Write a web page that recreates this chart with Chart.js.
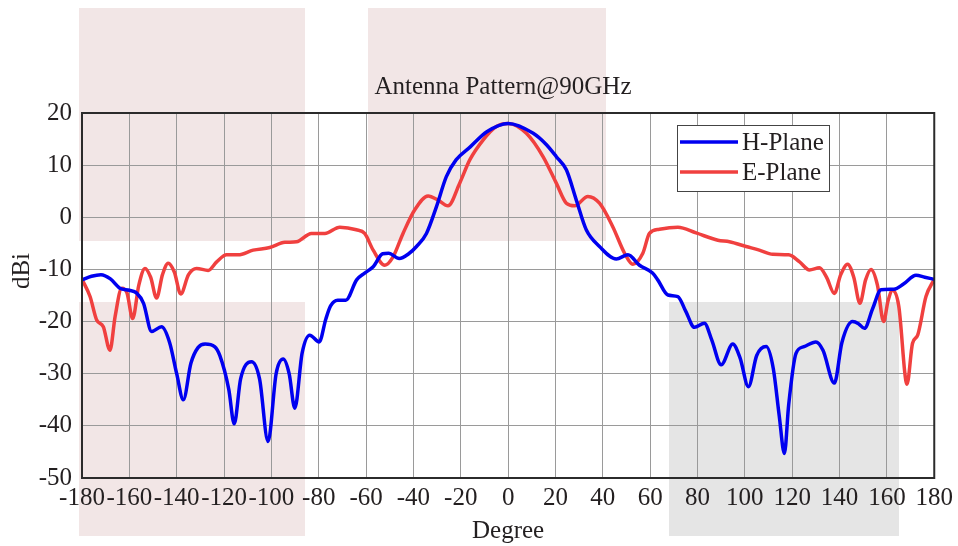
<!DOCTYPE html>
<html>
<head>
<meta charset="utf-8">
<script src="https://cdn.jsdelivr.net/npm/chart.js@4.4.0/dist/chart.umd.min.js"></script>
<style>
  html, body { margin: 0; padding: 0; background: #fff; }
  #wrap { width: 958px; height: 546px; }
</style>
</head>
<body>
<div id="wrap"><canvas id="pattern"></canvas></div>
<script>
// H-Plane
var hAngles = [-180, -176, -172, -168, -164, -160, -157, -154, -150.6, -146.4, -143, -140, -137.2, -134, -131, -128, -124, -121.8, -118, -115.7,
    -113, -108.4, -105, -101.4, -98, -95, -92.5, -90.1, -87, -83.8, -79.8, -77, -75, -72, -68.6, -64, -60.6, -57, -53, -50.5,
    -46, -42, -38.7, -34.5, -30.3, -26.1, -22, -16, -9, 0, 10.6, 16, 20.4, 24.6, 28.8, 33, 38.6, 45.7, 50.6, 55.5,
    61, 63.2, 67.5, 71.7, 75, 78.7, 82.9, 86, 90, 94.9, 98, 101.5, 105, 109, 112, 114.5, 116.7, 118.5, 121.6, 125,
    130, 133, 137.8, 141, 145.5, 148, 150.5, 154, 157.5, 163, 167, 172.3, 176, 180];
var hGain = [-12, -11.3, -11, -11.8, -13.6, -14, -14.5, -16.5, -21.9, -21, -24, -30, -35, -28, -25, -24.3, -24.8, -26.5, -33, -39.6,
    -31, -27.7, -31, -43, -30, -27.2, -30, -36.6, -26, -22.6, -23.9, -19.5, -17, -15.9, -15.9, -12, -10.7, -9.5, -7, -6.9,
    -7.9, -7, -5.6, -3.1, 2, 7.8, 11, 13.5, 16.4, 18, 16.1, 14, 11.6, 9.1, 3.3, -2.4, -5.6, -8, -7.2, -9.2,
    -10.7, -12, -14.9, -15.2, -18, -21.1, -20.3, -23.5, -28.3, -24.3, -27, -32.5, -26.5, -24.8, -29, -38, -45.3, -36, -26.1, -24.8,
    -23.9, -25.5, -31.8, -24, -20, -20.4, -21.3, -17.5, -13.9, -13.8, -12.8, -11.1, -11.5, -11.9];

// E-Plane
var eAngles = [-180, -176.6, -173.8, -171, -168.2, -166, -163.2, -161, -158.6, -156, -153.4, -151, -148.5, -146, -143.6, -141, -138.3, -135, -131.6, -126.7,
    -123, -118.9, -114, -107.7, -100.7, -94.3, -89.4, -83.1, -77.4, -71.1, -64.1, -60.6, -57, -52.1, -48.6, -44.4, -39.5, -33.8, -29.6, -25.4,
    -20.5, -16.2, -10.6, -5, 0, 7.7, 14.8, 20.4, 24.6, 28.1, 33.7, 38.6, 44.2, 49.2, 52.7, 56.9, 59.7, 63.9, 71.7, 79.4,
    88.6, 93.5, 100.5, 106.1, 111.8, 118.5, 123, 127.3, 131.5, 134.5, 137.8, 140.5, 143.4, 146, 148.6, 151, 153.3, 156, 158.6, 160.5,
    162.4, 165, 168.5, 170.8, 173, 176.5, 180];
var eGain = [-11.9, -15.2, -19.7, -21, -25.5, -19, -13.6, -14.5, -19.4, -13, -9.8, -11.5, -15.5, -11, -8.8, -10.5, -14.7, -11, -9.8, -10.2,
    -8.5, -7.2, -7.2, -6.3, -5.8, -4.8, -4.7, -3.1, -3.1, -1.9, -2.4, -3.1, -6.3, -9.2, -7.6, -3.1, 1.4, 4.1, 3.3, 2.2,
    6.5, 11, 14.8, 17.4, 18, 16.1, 11.6, 6.5, 2.7, 2.2, 4, 2.7, -1.8, -6.9, -9, -6.9, -3.1, -2.3, -1.9, -3,
    -4.4, -4.7, -5.6, -6.3, -7.1, -7.2, -8.5, -10.1, -9.7, -11.5, -14.6, -11, -9, -11.5, -16.5, -12, -10, -13, -20, -16,
    -14, -17, -32, -24.2, -22.6, -15.2, -11.9];

var xTicks = [-180, 180, 20];
var yTicks = [-50, 20, 10];
var seriesNames = ["H-Plane", "E-Plane"];
var seriesColors = ["#0000f0", "#f0403f"];

function toPoints(xs, ys) {
    var pts = [];
    xs.forEach(function (x, i) {
        pts.push({ x: x, y: ys[i] });
    });
    return pts;
}

var serif = "'Liberation Serif', 'Times New Roman', serif";
var textColor = "#231f20";

// light boxes behind the plot
var backdrop = {
    id: "backdrop",
    beforeDraw: function (chart) {
        var ctx = chart.ctx;
        ctx.save();
        ctx.fillStyle = "#f2e6e6";
        ctx.fillRect(79, 8, 226, 233);
        ctx.fillRect(368, 8, 238, 233);
        ctx.fillRect(79, 302, 226, 234);
        ctx.fillStyle = "#e5e5e5";
        ctx.fillRect(669, 302, 230, 234);
        ctx.restore();
    }
};

var decorations = {
    id: "decorations",
    afterDraw: function (chart) {
        var ctx = chart.ctx;
        var a = chart.chartArea;
        ctx.save();
        // frame
        ctx.strokeStyle = "#2b2b2b";
        ctx.lineWidth = 2;
        ctx.strokeRect(a.left, a.top, a.right - a.left, a.bottom - a.top);

        // title
        ctx.fillStyle = textColor;
        ctx.font = "25px " + serif;
        ctx.textAlign = "center";
        ctx.textBaseline = "middle";
        ctx.fillText("Antenna Pattern@90GHz", 503, 87);

        // y title
        ctx.save();
        ctx.translate(22, 271);
        ctx.rotate(-Math.PI / 2);
        ctx.fillText("dBi", 0, 0);
        ctx.restore();

        // legend inside the plot
        ctx.fillStyle = "#fff";
        ctx.fillRect(677, 125, 152, 66);
        ctx.strokeStyle = "#444";
        ctx.lineWidth = 1;
        ctx.strokeRect(677.5, 125.5, 152, 66);
        ctx.textAlign = "left";
        chart.data.datasets.forEach(function (ds, i) {
            var y = 142 + i * 30;
            ctx.strokeStyle = ds.borderColor;
            ctx.lineWidth = 3.5;
            ctx.beginPath();
            ctx.moveTo(680, y);
            ctx.lineTo(738, y);
            ctx.stroke();
            ctx.fillStyle = textColor;
            ctx.fillText(ds.label, 742, y + 1);
        });
        ctx.restore();
    }
};

new Chart("pattern", {
    type: "scatter",
    data: {
        datasets: [{
            label: seriesNames[0],
            data: toPoints(hAngles, hGain),
            borderColor: seriesColors[0],
            backgroundColor: seriesColors[0],
            borderWidth: 3.5,
            showLine: true,
            pointRadius: 0,
            cubicInterpolationMode: "monotone"
        }, {
            label: seriesNames[1],
            data: toPoints(eAngles, eGain),
            borderColor: seriesColors[1],
            backgroundColor: seriesColors[1],
            borderWidth: 3.5,
            showLine: true,
            pointRadius: 0,
            cubicInterpolationMode: "monotone"
        }]
    },
    options: {
        responsive: true,
        maintainAspectRatio: false,
        animation: false,
        layout: { padding: { top: 113, right: 23, left: 0, bottom: 0 } },
        plugins: {
            legend: { display: false },
            title: { display: false },
            tooltip: { enabled: false }
        },
        scales: {
            x: {
                type: "linear",
                min: xTicks[0],
                max: xTicks[1],
                afterFit: function (scale) { scale.height = 68; },
                ticks: {
                    stepSize: xTicks[2],
                    padding: 5,
                    color: textColor,
                    maxRotation: 0,
                    autoSkip: false,
                    font: { family: serif, size: 25 }
                },
                grid: { color: "#9a9a9a", lineWidth: 1, drawTicks: false },
                border: { display: false },
                title: {
                    display: true,
                    text: "Degree",
                    color: textColor,
                    font: { family: serif, size: 25 },
                    padding: 0
                }
            },
            y: {
                min: yTicks[0],
                max: yTicks[1],
                afterFit: function (scale) { scale.width = 82; },
                ticks: {
                    stepSize: yTicks[2],
                    padding: 10,
                    color: textColor,
                    font: { family: serif, size: 25 }
                },
                grid: { color: "#9a9a9a", lineWidth: 1, drawTicks: false },
                border: { display: false }
            }
        }
    },
    plugins: [backdrop, decorations]
});
</script>
</body>
</html>
